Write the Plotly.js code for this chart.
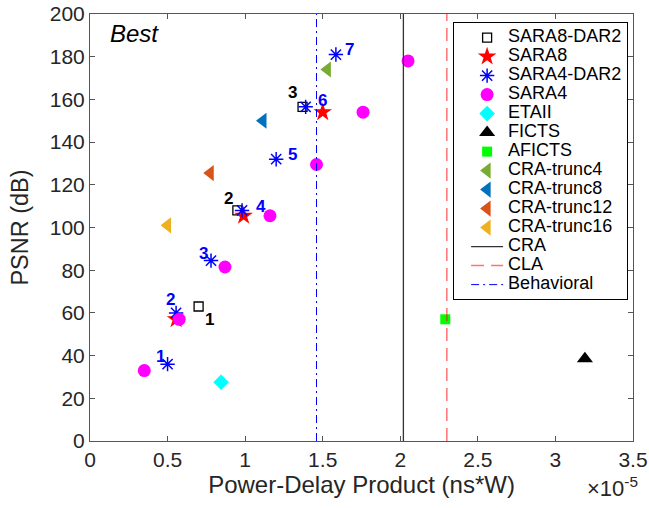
<!DOCTYPE html>
<html>
<head>
<meta charset="utf-8">
<script src="https://cdn.plot.ly/plotly-3.0.1.min.js"></script>
<style>html,body{margin:0;padding:0;background:#fff;}</style>
</head>
<body>
<div id="chart" style="width:649px;height:508px;"></div>
<script>
// Power-Delay Product in units of 1e-5 ns*W ; PSNR in dB
const sara8dar2X = [0.70, 0.95, 1.37];
const sara8dar2Y = [63, 108, 156.5];
const sara8X = [0.555, 0.99, 1.50];
const sara8Y = [57, 105.5, 154];
const sara4dar2X = [0.50, 0.555, 0.78, 0.98, 1.20, 1.39, 1.585];
const sara4dar2Y = [36, 60, 84.5, 108, 132, 156.5, 181];
const sara4X = [0.35, 0.575, 0.87, 1.16, 1.46, 1.76, 2.05];
const sara4Y = [33, 57, 81.5, 105.5, 129.5, 154, 178];
const etaiiX = [0.845], etaiiY = [27.5];
const fictsX = [3.19], fictsY = [38.5];
const afictsX = [2.29], afictsY = [57];
const trunc4X = [1.53], trunc4Y = [174];
const trunc8X = [1.115], trunc8Y = [150];
const trunc12X = [0.775], trunc12Y = [125.5];
const trunc16X = [0.50], trunc16Y = [101];
const craX = 2.02, claX = 2.30, behavioralX = 1.46;
const yRange = [0, 200];
const xTicks = [0, 0.5, 1, 1.5, 2, 2.5, 3, 3.5];
const xTickText = ['0', '0.5', '1', '1.5', '2', '2.5', '3', '3.5'];
const yTicks = [0, 20, 40, 60, 80, 100, 120, 140, 160, 180, 200];
const sara4dar2Labels = ['1', '2', '3', '4', '5', '6', '7'];
const sara8dar2Labels = ['1', '2', '3'];

// label offsets (px) – style only
const blueShift = [[-7, 8], [-6, 13], [-8, 7], [19, 4], [16, 5], [17, 6], [14, 5]];
const blackShift = [[11, -13], [-9, 12], [-10, 14]];

const LF = 'Liberation Sans, Arial, Helvetica, sans-serif';
const nm = s => '<span style="font-size:18px">' + s + '</span>';

function pts(x, y, name, marker) {
  return {x: x, y: y, type: 'scatter', mode: 'markers', name: nm(name), marker: marker, cliponaxis: false};
}
const traces = [
  pts(sara8dar2X, sara8dar2Y, 'SARA8-DAR2', {symbol: 'square-open', size: 9, color: '#000', line: {color: '#000', width: 1.3}}),
  pts(sara8X, sara8Y, 'SARA8', {symbol: 'star', size: 14, color: '#ff0000'}),
  pts(sara4dar2X, sara4dar2Y, 'SARA4-DAR2', {symbol: 'asterisk-open', size: 12, color: '#0000ff', line: {color: '#0000ff', width: 1.5}}),
  pts(sara4X, sara4Y, 'SARA4', {symbol: 'circle', size: 13, color: '#ff00ff'}),
  pts(etaiiX, etaiiY, 'ETAII', {symbol: 'diamond', size: 12, color: '#00ffff'}),
  pts(fictsX, fictsY, 'FICTS', {symbol: 'triangle-up', size: 14, color: '#000000'}),
  pts(afictsX, afictsY, 'AFICTS', {symbol: 'square', size: 10, color: '#00ff00'}),
  pts(trunc4X, trunc4Y, 'CRA-trunc4', {symbol: 'triangle-left', size: 14, color: '#77AC30'}),
  pts(trunc8X, trunc8Y, 'CRA-trunc8', {symbol: 'triangle-left', size: 14, color: '#0072BD'}),
  pts(trunc12X, trunc12Y, 'CRA-trunc12', {symbol: 'triangle-left', size: 14, color: '#D95319'}),
  pts(trunc16X, trunc16Y, 'CRA-trunc16', {symbol: 'triangle-left', size: 14, color: '#EDB120'}),
  {x: [craX, craX], y: yRange, type: 'scatter', mode: 'lines', name: nm('CRA'), line: {color: '#333333', width: 1.3}},
  {x: [claX, claX], y: yRange, type: 'scatter', mode: 'lines', name: nm('CLA'), line: {color: 'rgba(255,0,0,0.55)', width: 1.5, dash: '13px,7px'}},
  {x: [behavioralX, behavioralX], y: yRange, type: 'scatter', mode: 'lines', name: nm('Behavioral'), line: {color: '#0000ff', width: 1, dash: '8px,4px,2px,4px'}}
];

const annotations = [];
sara4dar2Labels.forEach((t, i) => annotations.push({
  x: sara4dar2X[i], y: sara4dar2Y[i], text: '<b>' + t + '</b>', showarrow: false,
  xshift: blueShift[i][0], yshift: blueShift[i][1], font: {family: LF, size: 17, color: '#0000ff'}
}));
sara8dar2Labels.forEach((t, i) => annotations.push({
  x: sara8dar2X[i], y: sara8dar2Y[i], text: '<b>' + t + '</b>', showarrow: false,
  xshift: blackShift[i][0], yshift: blackShift[i][1], font: {family: LF, size: 17, color: '#000'}
}));
annotations.push({xref: 'paper', yref: 'paper', x: 0.033, y: 0.99, xanchor: 'left', yanchor: 'top',
  text: '<i>Best</i>', showarrow: false, font: {family: LF, size: 24, color: '#000'}});
annotations.push({xref: 'paper', yref: 'paper', x: 1.012, y: -0.07, xanchor: 'right', yanchor: 'top',
  text: '×10<sup>-5</sup>', showarrow: false, font: {family: LF, size: 22, color: '#262626'}});

const axisCommon = {
  showline: true, linecolor: '#555', linewidth: 1, mirror: 'ticks', ticks: 'inside', ticklen: 5,
  tickcolor: '#555', showgrid: false, zeroline: false, tickfont: {family: LF, size: 21, color: '#262626'}
};

const layout = {
  width: 649, height: 508,
  margin: {l: 90, r: 16, t: 14, b: 67},
  paper_bgcolor: '#fff', plot_bgcolor: '#fff',
  showlegend: true,
  legend: {x: 0.991, y: 0.981, xanchor: 'right', yanchor: 'top', bgcolor: '#fff', bordercolor: '#000', borderwidth: 1,
    font: {family: LF, size: 12, color: '#000'}, itemwidth: 32, indentation: 12, tracegroupgap: 0},
  xaxis: Object.assign({}, axisCommon, {range: [0, 3.5], tickvals: xTicks, ticktext: xTickText,
    title: {text: 'Power-Delay Product (ns*W)', font: {family: LF, size: 24, color: '#262626'}, standoff: 4}}),
  yaxis: Object.assign({}, axisCommon, {range: [0, 200], tickvals: yTicks,
    title: {text: 'PSNR (dB)', font: {family: LF, size: 23.5, color: '#262626'}, standoff: 14}}),
  annotations: annotations
};

Plotly.newPlot('chart', traces, layout, {displayModeBar: false, staticPlot: true});
</script>
</body>
</html>
